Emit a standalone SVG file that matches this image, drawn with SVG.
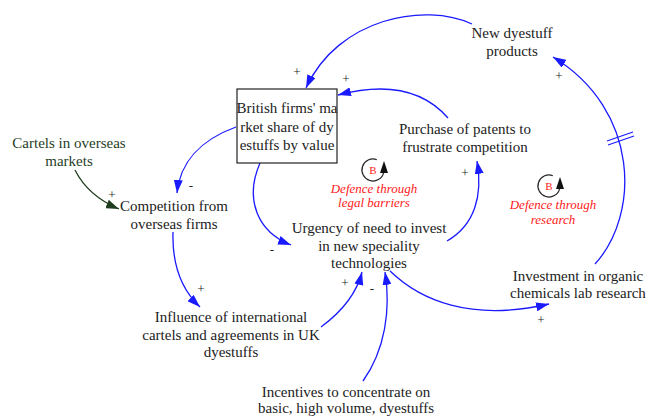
<svg xmlns="http://www.w3.org/2000/svg" width="651" height="417" viewBox="0 0 651 417" font-family="Liberation Serif, DejaVu Serif, serif">
  <style>
    text { font-family: 'Liberation Serif', 'DejaVu Serif', serif; }
    .lbl { font-size: 15px; fill: #222; text-anchor: middle; }
    .ext { fill: #1f3d1f; }
    .sgn { font-size: 13px; fill: #222; text-anchor: middle; }
    .loop { font-size: 13px; font-style: italic; fill: #ff1a1a; text-anchor: middle; }
    .b { font-size: 11px; fill: #ff1a1a; text-anchor: middle; }
    .link { fill: none; stroke: #1a1aff; stroke-width: 1.3; marker-end: url(#ah); }
    .link-ext { fill: none; stroke: #1f3d1f; stroke-width: 1.3; marker-end: url(#ahg); }
    .ring { fill: none; stroke: #222; stroke-width: 1.2; }
  </style>
  <defs>
    <marker id="ah" viewBox="0 0 13 9" refX="13" refY="4.5" markerWidth="13" markerHeight="9" markerUnits="userSpaceOnUse" orient="auto">
      <path d="M0,0 L13,4.5 L0,9 z" fill="#1a1aff"/>
    </marker>
    <marker id="ahg" viewBox="0 0 13 9" refX="13" refY="4.5" markerWidth="13" markerHeight="9" markerUnits="userSpaceOnUse" orient="auto">
      <path d="M0,0 L13,4.5 L0,9 z" fill="#1f3d1f"/>
    </marker>
  </defs>

  <!-- causal links -->
  <g id="connectors">
    <path class="link" d="M472,24 C425,2 338,18 306,88"/>
    <path class="link" d="M448,118 C420,86 380,84 338,95"/>
    <path class="link" d="M236,127 C200,140 180,163 177,193"/>
    <path class="link-ext" d="M75,170 C85,190 100,201 119,209"/>
    <path class="link" d="M260,163 C244,200 258,232 291,245"/>
    <path class="link" d="M447,241 C475,225 483,195 477,161"/>
    <path class="link" d="M173,232 C172,265 182,290 200,307"/>
    <path class="link" d="M321,327 C340,313 356,296 362,272"/>
    <path class="link" d="M363,381 C385,350 391,310 385,272"/>
    <path class="link" d="M390,271 C420,300 470,322 549,304"/>
    <path class="link" d="M595,264 C640,215 640,110 553,57"/>
    <!-- delay mark -->
    <line x1="607" y1="141" x2="633" y2="132" stroke="#1a1aff" stroke-width="1.2"/>
    <line x1="608" y1="145" x2="634" y2="136" stroke="#1a1aff" stroke-width="1.2"/>
    <!-- polarities -->
    <text class="sgn" x="297" y="76">+</text>
    <text class="sgn" x="346" y="83">+</text>
    <text class="sgn" x="191" y="190">-</text>
    <text class="sgn" x="112" y="199">+</text>
    <text class="sgn" x="272" y="254">-</text>
    <text class="sgn" x="465" y="177">+</text>
    <text class="sgn" x="201" y="293">+</text>
    <text class="sgn" x="345" y="287">+</text>
    <text class="sgn" x="372" y="293">-</text>
    <text class="sgn" x="541" y="324">+</text>
    <text class="sgn" x="559" y="80">+</text>
  </g>

  <g id="new-dyestuff">
    <text class="lbl" x="512" y="38">New dyestuff</text>
    <text class="lbl" x="512" y="56">products</text>
  </g>
  <g id="market-share">
    <rect x="237" y="89" width="100" height="74" fill="#fff" stroke="#222" stroke-width="1.2"/>
    <text class="lbl" x="287" y="113">British firms' ma</text>
    <text class="lbl" x="287" y="132">rket share of dy</text>
    <text class="lbl" x="287" y="150">estuffs by value</text>
  </g>
  <g id="cartels-overseas">
    <text class="lbl ext" x="69" y="148">Cartels in overseas</text>
    <text class="lbl ext" x="69" y="166">markets</text>
  </g>
  <g id="competition">
    <text class="lbl" x="174" y="211">Competition from</text>
    <text class="lbl" x="174" y="229">overseas firms</text>
  </g>
  <g id="patents">
    <text class="lbl" x="465" y="134">Purchase of patents to</text>
    <text class="lbl" x="465" y="152">frustrate competition</text>
  </g>
  <g id="urgency">
    <text class="lbl" x="369" y="233">Urgency of need to invest</text>
    <text class="lbl" x="369" y="251">in new speciality</text>
    <text class="lbl" x="369" y="268">technologies</text>
  </g>
  <g id="lab-research">
    <text class="lbl" x="578" y="281">Investment in organic</text>
    <text class="lbl" x="578" y="298">chemicals lab research</text>
  </g>
  <g id="cartels-uk">
    <text class="lbl" x="231" y="322">Influence of international</text>
    <text class="lbl" x="231" y="340">cartels and agreements in UK</text>
    <text class="lbl" x="231" y="357">dyestuffs</text>
  </g>
  <g id="incentives">
    <text class="lbl" x="346" y="397">Incentives to concentrate on</text>
    <text class="lbl" x="346" y="413">basic, high volume, dyestuffs</text>
  </g>

  <!-- balancing loop markers -->
  <g id="loop-legal">
    <path class="ring" d="M376.8,159.7 A11,11 0 1 0 383.6,172.8"/>
    <path d="M380,173 L388,173 L384,161 z" fill="#111"/>
    <text class="b" x="373" y="174">B</text>
    <text class="loop" x="374" y="193">Defence through</text>
    <text class="loop" x="374" y="207">legal barriers</text>
  </g>
  <g id="loop-research">
    <path class="ring" d="M552.8,175.7 A11,11 0 1 0 559.6,188.8"/>
    <path d="M556,189 L564,189 L560,177 z" fill="#111"/>
    <text class="b" x="549" y="190">B</text>
    <text class="loop" x="553" y="209">Defence through</text>
    <text class="loop" x="553" y="224">research</text>
  </g>
</svg>
